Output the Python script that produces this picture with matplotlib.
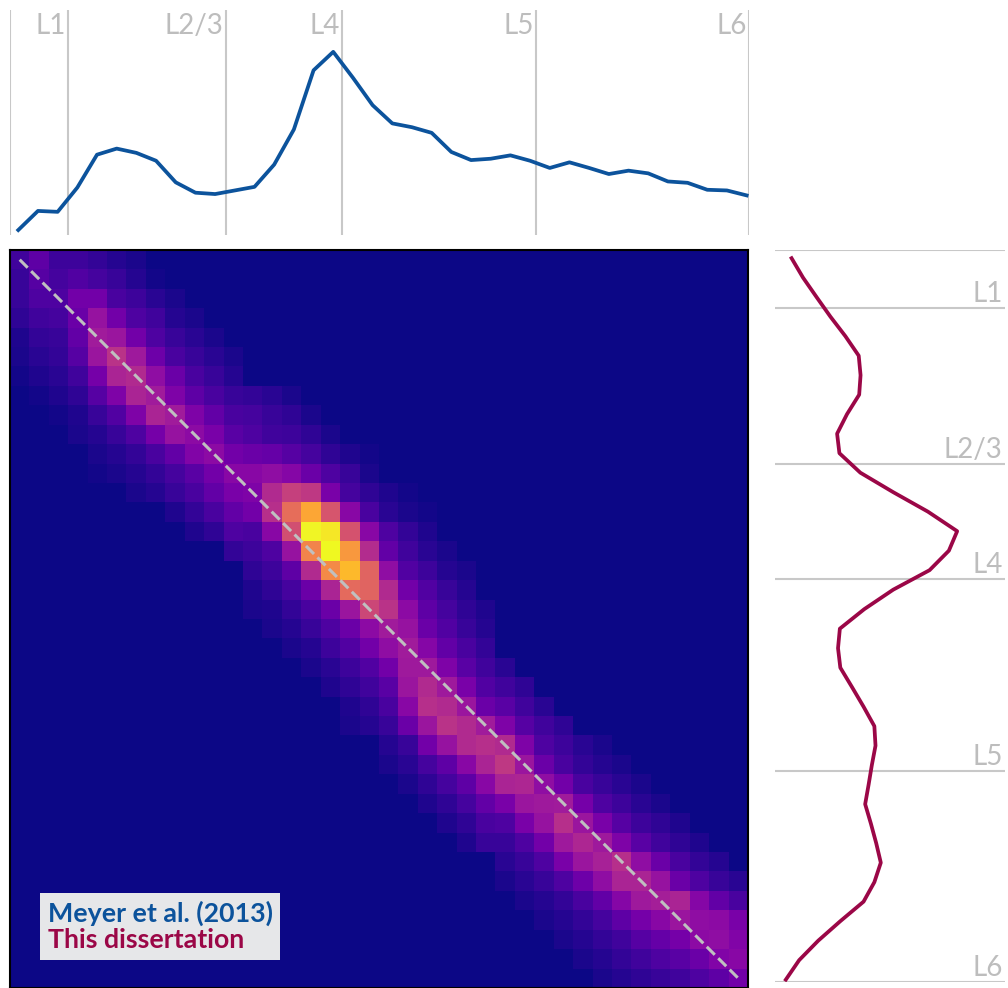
import numpy as np
import matplotlib
matplotlib.use('Agg')
import matplotlib.pyplot as plt

plt.rcParams['font.family'] = ['Lato', 'DejaVu Sans']

# layer boundaries (bin units) and names
layer_names = ['L1', 'L2/3', 'L4', 'L5', 'L6']
layer_bounds = [2.55, 10.53, 16.45, 26.3, 37.12]
depth_lo = -0.42

# Meyer et al. (2013) profile, top panel
meyer = [2.2, 10.7, 10.3, 21.1, 35.7, 38.4, 36.5, 33.0, 23.4, 18.8,
         18.2, 19.8, 21.4, 31.3, 46.9, 73.2, 81.4, 69.9, 57.7, 49.6,
         47.9, 45.4, 36.9, 33.3, 33.9, 35.4, 33.0, 29.8, 32.3, 29.8,
         27.1, 28.6, 27.4, 23.8, 23.2, 20.1, 19.8, 17.6]

# this dissertation profile, right panel
thesis = [7.2, 12.2, 18.1, 24.1, 30.6, 36.4, 37.2, 36.6, 31.3, 27.0,
          28.0, 37.1, 51.4, 66.5, 79.2, 75.6, 67.2, 51.4, 38.8, 28.2,
          27.4, 28.4, 33.5, 38.5, 43.2, 43.7, 42.1, 40.7, 39.2, 41.7,
          44.0, 46.0, 43.2, 38.5, 28.4, 18.8, 10.5, 4.7]

# heat map band: first column and values of each row (0-10)
band_start = [0, 0, 0, 0, 0, 0, 0, 1, 2, 3, 4, 4, 6, 8, 9, 11, 12, 12, 12,
              13, 14, 15, 16, 17, 17, 19, 19, 20, 21, 22, 23, 25, 25, 26,
              27, 28, 29, 30]
band_vals = [
    [1.0, 1.7, 0.9, 0.9, 0.7, 0.4, 0.2],
    [0.8, 1.5, 1.1, 1.4, 1.1, 0.8, 0.4, 0.1],
    [0.8, 1.3, 1.3, 2.2, 2.2, 1.2, 0.9, 0.5, 0.2],
    [0.6, 1.0, 1.1, 2.0, 3.2, 2.2, 1.3, 1.0, 0.4, 0.2],
    [0.3, 0.7, 0.8, 1.8, 3.5, 3.3, 2.2, 1.3, 0.8, 0.5, 0.2],
    [0.2, 0.5, 0.7, 1.5, 3.3, 4.3, 3.4, 2.1, 1.2, 0.8, 0.5, 0.2],
    [0.1, 0.3, 0.5, 1.0, 2.3, 3.8, 4.0, 3.0, 2.0, 1.2, 0.8, 0.4],
    [0.1, 0.3, 0.6, 1.5, 2.5, 3.8, 3.5, 2.5, 1.7, 1.2, 0.8, 0.7, 0.5, 0.2],
    [0.1, 0.3, 0.8, 1.4, 2.5, 3.8, 3.5, 2.5, 1.8, 1.2, 1.1, 0.8, 0.6, 0.2],
    [0.2, 0.4, 0.8, 1.3, 2.3, 3.2, 2.9, 2.4, 1.6, 1.3, 1.0, 0.9, 0.6, 0.2],
    [0.2, 0.4, 0.7, 1.2, 1.8, 2.6, 2.9, 2.2, 2.0, 1.9, 1.5, 1.1, 0.6, 0.3, 0.1],
    [0.1, 0.2, 0.4, 0.7, 1.1, 1.6, 2.2, 2.8, 2.8, 3.0, 2.7, 2.0, 1.3, 0.8, 0.2],
    [0.2, 0.4, 0.8, 1.2, 1.8, 2.4, 2.5, 4.0, 4.8, 4.5, 2.4, 1.1, 0.6, 0.3, 0.1],
    [0.3, 0.7, 1.2, 1.8, 2.2, 4.2, 6.3, 8.0, 5.5, 2.8, 1.2, 0.5, 0.2, 0.1],
    [0.3, 0.6, 1.3, 1.2, 2.8, 5.3, 9.9, 9.6, 5.4, 2.8, 1.3, 0.7, 0.3],
    [0.7, 0.9, 1.3, 3.2, 7.0, 10.0, 7.6, 4.1, 1.8, 1.0, 0.5, 0.2],
    [0.6, 0.9, 1.7, 4.0, 7.2, 8.5, 6.0, 3.0, 1.4, 0.9, 0.4, 0.2],
    [0.3, 0.6, 1.1, 2.0, 3.8, 6.2, 6.0, 4.0, 2.2, 1.4, 0.8, 0.4],
    [0.2, 0.3, 0.7, 1.2, 2.0, 3.3, 5.0, 4.3, 2.9, 1.7, 1.1, 0.6, 0.3],
    [0.2, 0.4, 0.8, 1.3, 2.0, 2.9, 3.5, 3.2, 2.0, 1.4, 0.8, 0.4],
    [0.2, 0.4, 0.9, 1.4, 2.2, 3.0, 3.5, 2.7, 1.8, 1.2, 0.7],
    [0.2, 0.5, 0.9, 1.4, 2.2, 3.4, 3.4, 2.5, 1.6, 1.0, 0.5],
    [0.3, 0.6, 1.0, 1.6, 3.3, 4.0, 3.4, 2.4, 1.4, 1.0, 0.6],
    [0.3, 0.6, 1.2, 2.8, 4.2, 4.0, 3.3, 2.0, 1.6, 1.0, 0.5],
    [0.2, 0.4, 0.8, 2.0, 3.3, 4.3, 4.0, 3.5, 2.5, 1.5, 1.0, 0.6],
    [0.4, 0.8, 2.2, 3.2, 4.0, 4.2, 4.0, 2.5, 1.3, 0.9, 0.5, 0.2],
    [0.2, 0.5, 1.1, 1.7, 2.8, 3.8, 4.5, 3.3, 2.0, 1.2, 0.7, 0.4, 0.2],
    [0.2, 0.6, 1.1, 1.7, 2.8, 3.8, 3.9, 3.0, 2.2, 1.2, 0.8, 0.5, 0.2],
    [0.3, 0.6, 1.1, 1.8, 2.4, 3.3, 3.4, 3.5, 2.3, 1.3, 0.9, 0.5, 0.2],
    [0.3, 0.6, 1.2, 1.3, 2.4, 3.2, 4.2, 3.3, 2.4, 1.5, 0.9, 0.6, 0.3],
    [0.3, 0.8, 0.8, 1.3, 2.2, 3.4, 3.9, 3.4, 2.5, 1.6, 1.0, 0.6, 0.3],
    [0.5, 0.8, 1.3, 2.4, 3.3, 3.7, 4.2, 3.0, 2.0, 1.2, 0.7, 0.4],
    [0.2, 0.5, 0.8, 1.3, 2.1, 3.0, 3.8, 3.8, 3.2, 2.0, 1.3, 0.8, 0.5],
    [0.2, 0.4, 0.7, 1.2, 1.8, 2.7, 3.4, 3.6, 3.8, 2.7, 1.8, 1.2],
    [0.2, 0.4, 0.7, 1.1, 1.7, 2.3, 2.8, 3.3, 3.0, 2.9, 2.4],
    [0.2, 0.4, 0.7, 1.0, 1.5, 1.9, 2.3, 2.9, 3.0, 2.6],
    [0.2, 0.4, 0.7, 1.0, 1.3, 1.6, 2.0, 2.6, 2.8],
    [0.2, 0.4, 0.6, 0.8, 1.0, 1.3, 1.7, 2.2],
]

n = len(band_start)
mat = np.zeros((n, n))
for i, (s, vals) in enumerate(zip(band_start, band_vals)):
    mat[i, s:s + len(vals)] = vals

bins = np.arange(n)
blue = '#0c539c'
crimson = '#9b0747'
grid_c = '#c8c8c8'
label_c = '#bdbdbd'

W, H = 1008, 988
fig = plt.figure(figsize=(W / 100, H / 100), dpi=100)

def box(x0, y0, x1, y1):
    return [x0 / W, 1 - y1 / H, (x1 - x0) / W, (y1 - y0) / H]

# heat map
ax = fig.add_axes(box(10, 250, 748, 988))
ax.imshow(mat, cmap='plasma', vmin=0, vmax=10, aspect='auto',
          interpolation='nearest')
ax.plot([0, n - 1], [0, n - 1], ls='--', color='#c0c0c0', lw=2.2)
ax.set_xticks([])
ax.set_yticks([])
for sp in ax.spines.values():
    sp.set_linewidth(1.5)
    sp.set_color('black')

# top profile
ax_top = fig.add_axes(box(10, 10, 749, 235))
for b in [depth_lo] + layer_bounds:
    ax_top.axvline(b, color=grid_c, lw=1.5)
l_top, = ax_top.plot(bins, meyer, color=blue, lw=2.7)
ax_top.set_xlim(depth_lo, layer_bounds[-1])
ax_top.set_ylim(0, 100)
for name, b in zip(layer_names, layer_bounds):
    ax_top.text(b - 0.12, 0.985, name, transform=ax_top.get_xaxis_transform(),
                ha='right', va='top', color=label_c, fontsize=20)
ax_top.axis('off')

# right profile
ax_r = fig.add_axes(box(775, 250, 1005, 982))
for b in [depth_lo] + layer_bounds:
    ax_r.axhline(b, color=grid_c, lw=1.5)
l_r, = ax_r.plot(thesis, bins, color=crimson, lw=2.7)
ax_r.set_ylim(layer_bounds[-1], depth_lo)
ax_r.set_xlim(0, 100)
for name, b in zip(layer_names, layer_bounds):
    ax_r.text(0.99, b - 0.05, name, transform=ax_r.get_yaxis_transform(),
              ha='right', va='bottom', color=label_c, fontsize=20)
ax_r.axis('off')

leg = ax.legend([l_top, l_r], ['Meyer et al. (2013)', 'This dissertation'],
                loc='lower left', bbox_to_anchor=(30 / 738, 28 / 738),
                borderaxespad=0, handlelength=0, handletextpad=0,
                labelcolor='linecolor', facecolor='#e6e7e9', framealpha=1,
                edgecolor='none', fancybox=False, borderpad=0.28,
                labelspacing=0.1, prop={'size': 19.3, 'weight': 'bold'})
for h in leg.legend_handles:
    h.set_visible(False)

fig.savefig('out.png', dpi=100)
